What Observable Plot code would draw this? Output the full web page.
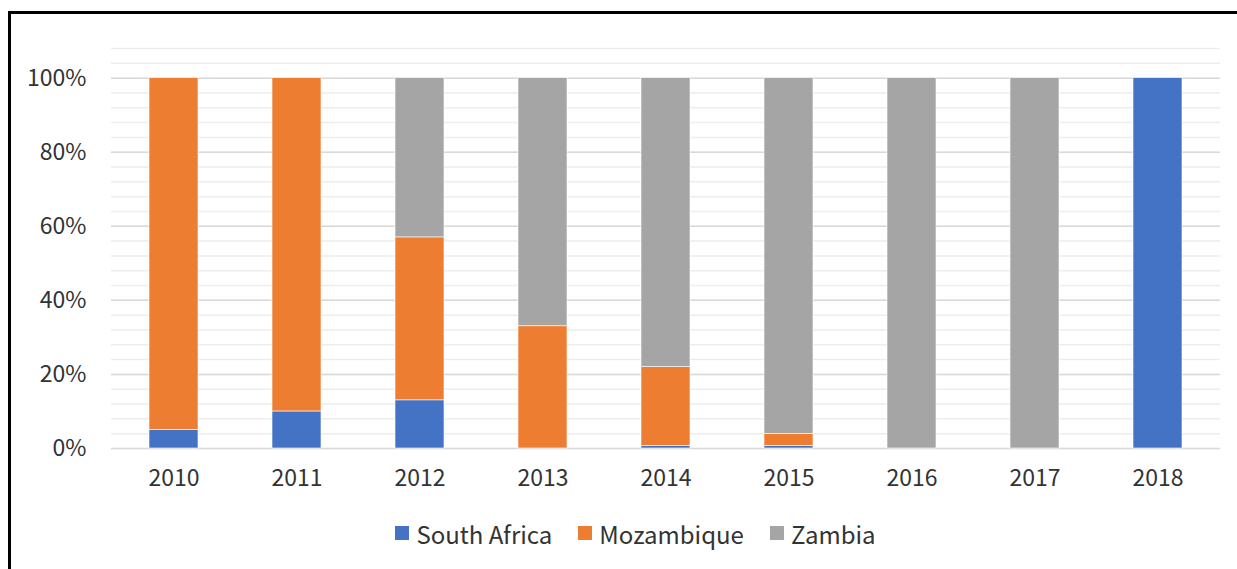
<!DOCTYPE html>
<html>
<head>
<meta charset="utf-8">
<script src="https://cdn.jsdelivr.net/npm/d3@7"></script>
<script src="https://cdn.jsdelivr.net/npm/@observablehq/plot@0.6"></script>
<style>
  html, body { margin: 0; padding: 0; background: #fff; overflow: hidden; }
  #wrap { position: relative; width: 1237px; height: 569px; font-family: 'Noto Sans CJK JP', 'Noto Sans', sans-serif; }
  #frame { position: absolute; left: 8px; top: 11px; width: 1240px; height: 600px; border-left: 3px solid #000; border-top: 3px solid #000; box-sizing: border-box; }
  #chart { position: absolute; left: 0; top: 0; }
  #legend { position: absolute; left: 17px; top: 518px; width: 1237px; height: 30px; display: flex; justify-content: center; align-items: center; font-size: 24px; color: #333; }
  .item { display: flex; align-items: center; margin: 0 13px; }
  .sw { width: 14px; height: 14px; margin-right: 7px; }
</style>
</head>
<body>
<div id="wrap">
  <div id="frame"></div>
  <div id="chart"></div>
  <div id="legend"></div>
</div>
<script>
const years = ["2010","2011","2012","2013","2014","2015","2016","2017","2018"];
const seriesNames = ["South Africa", "Mozambique", "Zambia"];
const southAfrica = [0.05, 0.10, 0.13, 0.00, 0.007, 0.007, 0.00, 0.00, 1.00];
const mozambique  = [0.95, 0.90, 0.44, 0.33, 0.213, 0.032, 0.00, 0.00, 0.00];
const zambia      = [0.00, 0.00, 0.43, 0.67, 0.78, 0.961, 1.00, 1.00, 0.00];
const colors = ["#4472C4", "#ED7D31", "#A5A5A5"];

const seriesValues = [southAfrica, mozambique, zambia];
const data = [];
years.forEach((y, i) => {
  seriesNames.forEach((s, j) => data.push({year: y, series: s, value: seriesValues[j][i]}));
});

const minorTicks = d3.range(0, 1.081, 0.04);
const majorTicks = [0, 0.2, 0.4, 0.6, 0.8, 1.0];

const chart = Plot.plot({
  width: 1237,
  height: 500,
  marginTop: 48,
  marginBottom: 52,
  marginLeft: 111,
  marginRight: 17,
  style: {fontFamily: "'Noto Sans CJK JP', 'Noto Sans', sans-serif", fontSize: "23px", color: "#333", background: "transparent"},
  x: {domain: years, paddingInner: 0.6, paddingOuter: 0.3, label: null},
  y: {domain: [0, 1.08], label: null},
  color: {domain: seriesNames, range: colors},
  marks: [
    Plot.ruleY(minorTicks, {stroke: "#ededed", strokeWidth: 1.5}),
    Plot.ruleY(majorTicks, {stroke: "#d9d9d9", strokeWidth: 1.5}),
    Plot.barY(data, {x: "year", y: "value", fill: "series", stroke: "#fff", strokeWidth: 0.6}),
    Plot.axisY({ticks: majorTicks, tickFormat: d3.format(".0%"), tickSize: 0, tickPadding: 25, fontSize: 23}),
    Plot.axisX({tickSize: 0, tickPadding: 21, fontSize: 23})
  ]
});
document.getElementById("chart").appendChild(chart);

const legend = document.getElementById("legend");
const cs = chart.scale("color");
seriesNames.forEach((s, i) => {
  const it = document.createElement("div");
  it.className = "item";
  const sw = document.createElement("div");
  sw.className = "sw";
  sw.style.background = cs.range[i];
  const t = document.createElement("span");
  t.textContent = s;
  it.appendChild(sw); it.appendChild(t);
  legend.appendChild(it);
});
</script>
</body>
</html>
